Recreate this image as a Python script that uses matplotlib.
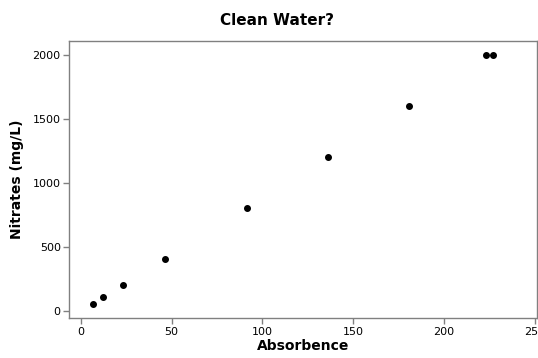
import matplotlib
matplotlib.use("Agg")
import matplotlib.pyplot as plt

absorbance = [6.9, 12.4, 23.3, 46.4, 91.5, 136.1, 180.8, 222.9, 226.9]
nitrates = [55, 105, 200, 400, 800, 1200, 1600, 2000, 2000]

fig = plt.figure(figsize=(5.38, 3.58), dpi=100)
ax = fig.add_axes([0.1283, 0.1109, 0.8693, 0.7746])

ax.scatter(absorbance, nitrates, s=16, color="black", zorder=3)

ax.set_xlim(-6.4, 251)
ax.set_ylim(-60, 2109)
ax.set_xticks([0, 50, 100, 150, 200, 250])
ax.set_yticks([0, 500, 1000, 1500, 2000])

for sp in ax.spines.values():
    sp.set_color("#808080")
    sp.set_linewidth(1)
ax.tick_params(direction="out", color="#808080", length=4, width=1,
               labelsize=8, labelcolor="black", pad=2)

fig.suptitle("Clean Water?", fontsize=11, fontweight="bold", x=0.515, y=0.963)
ax.set_xlabel("Absorbence", fontsize=10, fontweight="bold", labelpad=2)
ax.set_ylabel("Nitrates (mg/L)", fontsize=10, fontweight="bold", labelpad=6)

fig.savefig("out.png", dpi=100)
